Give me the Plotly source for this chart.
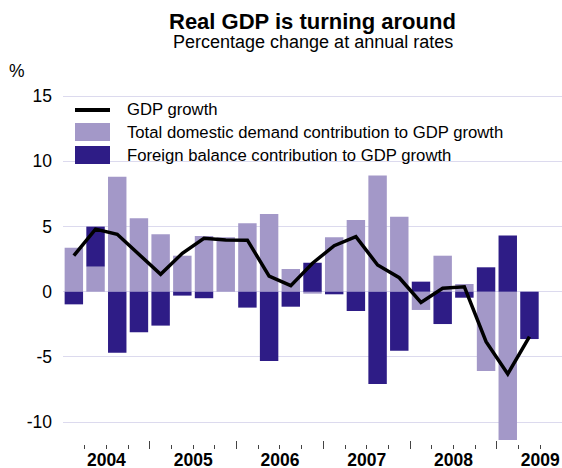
import plotly.graph_objects as go

years = ["2004", "2005", "2006", "2007", "2008", "2009"]
quarters = ["2004Q1", "2004Q2", "2004Q3", "2004Q4",
            "2005Q1", "2005Q2", "2005Q3", "2005Q4",
            "2006Q1", "2006Q2", "2006Q3", "2006Q4",
            "2007Q1", "2007Q2", "2007Q3", "2007Q4",
            "2008Q1", "2008Q2", "2008Q3", "2008Q4",
            "2009Q1", "2009Q2"]
domestic = [3.37, 1.92, 8.82, 5.63, 4.40, 2.76, 4.27, 4.17, 5.24, 5.96, 1.74, -0.15,
            4.17, 5.50, 8.90, 5.75, -1.40, 2.76, 0.59, -6.08, -11.37, None]
foreign = [-0.97, 3.07, -4.68, -3.11, -2.60, -0.30, -0.50, 0.0, -1.22, -5.31, -1.15, 2.22,
           -0.20, -1.48, -7.08, -4.52, 0.77, -2.48, -0.46, 1.87, 4.30, -3.63]
gdp = [2.76, 4.80, 4.40, 2.85, 1.33, 2.94, 4.09, 3.96, 3.95, 1.20, 0.46, 2.18,
       3.53, 4.22, 2.05, 1.07, -0.82, 0.26, 0.38, -3.83, -6.31, -3.45]
legend_names = ["GDP growth",
                "Total domestic demand contribution to GDP growth",
                "Foreign balance contribution to GDP growth"]

LIGHT = "#A398C8"
DARK = "#2E1C86"
GRID = "#DCDAEE"
FONT = "Liberation Sans, Arial, Helvetica, sans-serif"

xpos = list(range(len(quarters)))
year_centers = [4 * i + 1.5 for i in range(len(years))]
xr = [-0.5, len(quarters) + 0.5]

fig = go.Figure()
fig.add_trace(go.Bar(x=xpos, y=domestic, marker=dict(color=LIGHT, line=dict(width=0)),
                     name=legend_names[1], customdata=quarters, showlegend=False))
fig.add_trace(go.Bar(x=xpos, y=foreign, marker=dict(color=DARK, line=dict(width=0)),
                     name=legend_names[2], customdata=quarters, showlegend=False))
fig.add_trace(go.Scatter(x=xpos, y=gdp, mode="lines", xaxis="x2",
                         line=dict(color="black", width=3.5), name=legend_names[0],
                         showlegend=False))

fig.update_layout(
    width=562, height=468,
    margin=dict(l=63, r=0, t=83, b=19, autoexpand=False),
    paper_bgcolor="white", plot_bgcolor="white",
    barmode="relative", bargap=0.15,
    font=dict(family=FONT, color="black"),
    xaxis=dict(range=xr, tickmode="linear", tick0=-0.5, dtick=4, automargin=False,
               ticks="inside", ticklen=8, tickcolor="#444", tickwidth=1,
               showticklabels=False, showgrid=False, zeroline=False, showline=False,
               minor=dict(ticks="inside", ticklen=4, tick0=-0.5, dtick=1,
                          tickcolor="#444", tickwidth=1, showgrid=False)),
    xaxis2=dict(range=xr, overlaying="x", anchor="y", side="bottom", automargin=False,
                tickmode="array", tickvals=year_centers, ticktext=years,
                ticks="", showgrid=False, zeroline=False, showline=False,
                tickfont=dict(family=FONT, size=17.5, color="black", weight="bold"),
                ticklabelstandoff=-2),
    yaxis=dict(range=[-12.06, 16], tickmode="array", tickvals=[-10, -5, 0, 5, 10, 15],
               ticktext=["-10", "-5", "0", "5", "10", "15"], automargin=False,
               showgrid=True, gridcolor=GRID, gridwidth=1,
               zeroline=True, zerolinecolor=GRID, zerolinewidth=1,
               showline=False, ticks="", ticklabelstandoff=10,
               tickfont=dict(family=FONT, size=17.5, color="black")),
    showlegend=False,
)

# titles
fig.add_annotation(text="<b>Real GDP is turning around</b>", xref="paper", yref="paper",
                   x=0.5, y=1, yshift=83 - 21, xanchor="center", yanchor="middle",
                   showarrow=False, font=dict(family=FONT, size=22, color="black"))
fig.add_annotation(text="Percentage change at annual rates", xref="paper", yref="paper",
                   x=0.5, y=1, yshift=83 - 42, xanchor="center", yanchor="middle",
                   showarrow=False, font=dict(family=FONT, size=18, color="black"))
fig.add_annotation(text="%", xref="paper", yref="paper", x=0, xshift=-63 + 7,
                   y=1, yshift=83 - 71, xanchor="left", yanchor="middle",
                   showarrow=False, font=dict(family=FONT, size=17.5, color="black"))

# custom legend (paper-pixel placement)
W, H = 499.0, 366.0
def px(x):
    return (x - 63) / W
def py(y):
    return (449 - y) / H

fig.add_shape(type="line", xref="paper", yref="paper", x0=px(75), x1=px(110),
              y0=py(110), y1=py(110), line=dict(color="black", width=4))
fig.add_shape(type="rect", xref="paper", yref="paper", x0=px(75), x1=px(110),
              y0=py(141), y1=py(123), fillcolor=LIGHT, line=dict(width=0))
fig.add_shape(type="rect", xref="paper", yref="paper", x0=px(75), x1=px(110),
              y0=py(164), y1=py(146), fillcolor=DARK, line=dict(width=0))
for name, yc in zip(legend_names, [110, 132.5, 155.5]):
    fig.add_annotation(text=name, xref="paper", yref="paper", x=px(125), y=py(yc),
                       xanchor="left", yanchor="middle", showarrow=False,
                       font=dict(family=FONT, size=16.7, color="black"))

fig.write_html("out.html", config={"displayModeBar": False},
               post_script="document.body.style.margin='0';document.body.style.overflow='hidden';")
